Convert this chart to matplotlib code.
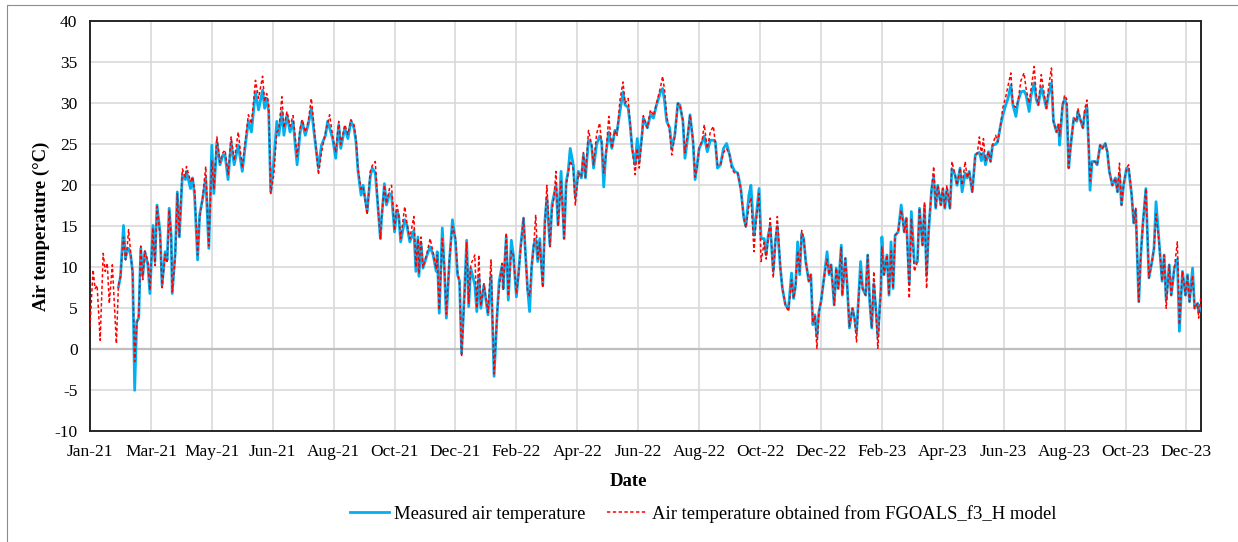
import numpy as np
import pandas as pd
import matplotlib
matplotlib.use("Agg")
import matplotlib.pyplot as plt
from matplotlib.lines import Line2D

nan = np.nan
start_date = "2021-01-01"
end_date = "2023-12-31"

# day offset from 2021-01-01
day = [0, 3, 5, 7, 10, 13, 15, 17, 19, 22, 26, 28, 30, 33, 35, 36, 38, 40, 42, 44,
       46, 48, 50, 52, 54, 57, 59, 62, 64, 66, 69, 71, 74, 76, 78, 80, 81, 84, 86, 88,
       91, 94, 95, 99, 101, 103, 106, 108, 111, 114, 117, 120, 122, 125, 128, 131, 133, 136, 139, 142,
       146, 150, 153, 156, 159, 163, 166, 170, 172, 174, 176, 178, 181, 184, 186, 189, 191, 194, 197, 200,
       204, 207, 209, 212, 215, 218, 221, 225, 228, 232, 234, 236, 239, 242, 245, 247, 251, 254, 257, 260,
       262, 264, 267, 269, 273, 276, 278, 281, 283, 286, 287, 290, 292, 295, 297, 300, 302, 304, 306, 310,
       312, 315, 319, 321, 323, 324, 326, 328, 332, 335, 338, 341, 342, 344, 347, 349, 351, 354, 357, 360,
       362, 364, 366, 369, 371, 373, 375, 379, 381, 383, 385, 388, 392, 395, 398, 401, 403, 406, 407, 410,
       412, 415, 417, 420, 422, 424, 427, 429, 431, 433, 435, 437, 439, 441, 443, 446, 448, 450, 453, 455,
       457, 459, 461, 464, 467, 469, 471, 473, 476, 478, 481, 484, 486, 488, 491, 494, 496, 499, 502, 504,
       506, 508, 511, 514, 517, 519, 522, 525, 527, 530, 532, 534, 537, 539, 541, 544, 545, 549, 552, 555,
       558, 562, 564, 566, 568, 571, 573, 576, 579, 581, 584, 586, 589, 591, 594, 596, 598, 600, 603, 605,
       608, 611, 614, 616, 618, 621, 624, 627, 630, 632, 635, 638, 641, 644, 646, 649, 651, 654, 656, 659,
       661, 664, 666, 668, 670, 673, 675, 677, 680, 682, 685, 688, 691, 693, 695, 697, 699, 701, 703, 705,
       708, 710, 712, 714, 716, 718, 720, 723, 726, 728, 730, 733, 735, 737, 740, 741, 744, 746, 748, 751,
       753, 755, 757, 759, 761, 764, 766, 768, 770, 772, 774, 776, 779, 780, 782, 785, 787, 789, 791, 793,
       796, 799, 802, 804, 807, 809, 812, 815, 817, 820, 822, 824, 826, 829, 831, 833, 835, 838, 840, 842,
       844, 847, 849, 852, 854, 857, 859, 862, 864, 866, 869, 872, 874, 876, 878, 880, 882, 885, 887, 889,
       892, 894, 897, 899, 902, 904, 907, 909, 912, 914, 917, 920, 922, 925, 927, 930, 932, 934, 937, 940,
       942, 944, 947, 949, 952, 954, 955, 958, 960, 962, 964, 966, 969, 972, 973, 976, 978, 980, 982, 984,
       985, 987, 990, 992, 995, 997, 1000, 1002, 1004, 1007, 1010, 1012, 1014, 1016, 1018, 1021, 1023, 1026, 1028, 1030,
       1033, 1035, 1037, 1040, 1043, 1046, 1048, 1050, 1053, 1056, 1058, 1060, 1063, 1065, 1068, 1071, 1073, 1076, 1079, 1081,
       1083, 1086, 1088, 1091, 1092, 1094]

measured = [nan, nan, nan, nan, nan, nan, nan, nan, nan, nan, nan, 7.6, 8.8, 15.1, 11.0, 12.0, 12.3, 11.5, 9.5, -5.0,
            3.4, 3.8, 12.3, 9.0, 11.9, 10.3, 6.8, 15.1, 10.7, 17.6, 14.3, 7.8, 11.9, 10.9, 17.2, 13.9, 6.8, 11.9, 19.2, 13.7,
            21.3, 20.7, 21.7, 19.6, 20.9, 18.8, 10.9, 16.4, 18.4, 20.9, 12.3, 24.9, 19.0, 25.3, 22.5, 23.7, 23.7, 20.7, 25.3, 22.5,
            24.9, 21.7, 24.9, 27.8, 26.5, 31.4, 29.2, 31.6, 29.4, 30.6, 29.0, 19.2, 22.9, 27.8, 26.1, 29.0, 26.1, 28.6, 26.5, 27.8,
            22.5, 26.5, 27.8, 26.1, 27.4, 29.4, 26.1, 22.1, 24.9, 26.1, 27.8, 27.0, 25.7, 23.3, 27.4, 24.5, 27.0, 25.7, 27.8, 27.0,
            25.3, 21.7, 18.8, 20.0, 16.8, 21.0, 22.1, 21.5, 18.4, 13.5, 15.6, 20.2, 17.6, 19.0, 18.8, 14.3, 16.8, 16.4, 13.1, 15.8,
            15.2, 13.1, 14.5, 9.5, 13.7, 8.9, 13.0, 9.9, 11.5, 12.5, 11.5, 9.5, 11.9, 4.4, 14.8, 9.9, 3.8, 10.7, 15.8, 13.1,
            9.1, 8.3, -0.5, 7.4, 13.3, 5.2, 9.9, 7.9, 4.6, 9.0, 5.0, 7.8, 4.2, 9.0, -3.3, 4.2, 8.3, 10.3, 7.4, 13.7,
            6.0, 13.3, 11.5, 6.4, 9.1, 12.3, 16.0, 11.5, 7.4, 4.6, 10.0, 12.7, 13.5, 10.7, 13.5, 7.8, 15.6, 18.5, 12.7, 17.6,
            18.8, 20.0, 15.2, 21.7, 13.5, 20.4, 21.7, 24.5, 22.5, 18.5, 21.7, 20.9, 23.7, 20.9, 25.5, 24.9, 22.1, 25.0, 26.0, 25.3,
            19.8, 23.7, 26.5, 24.5, 26.7, 26.5, 29.0, 31.4, 29.8, 29.5, 27.4, 24.5, 22.5, 25.7, 23.0, 26.5, 28.2, 27.0, 28.6, 28.2,
            29.8, 31.4, 31.8, 30.2, 27.8, 27.0, 24.5, 26.1, 30.0, 29.8, 27.8, 23.3, 26.1, 28.6, 25.3, 20.7, 22.5, 24.5, 25.3, 26.0,
            24.1, 25.5, 25.5, 25.3, 22.1, 22.5, 24.5, 25.1, 23.7, 22.5, 21.7, 21.5, 19.6, 16.0, 15.0, 18.8, 20.0, 13.9, 16.0, 19.6,
            13.5, 13.5, 11.5, 13.9, 15.0, 9.5, 13.1, 15.0, 9.9, 7.4, 5.4, 5.0, 9.3, 6.2, 7.8, 13.1, 9.1, 14.1, 13.5, 10.7,
            8.3, 9.1, 3.0, 4.2, 1.5, 4.6, 5.8, 8.7, 11.9, 9.1, 10.3, 5.4, 9.9, 7.4, 12.7, 6.6, 11.1, 7.4, 2.6, 5.0,
            3.8, 2.0, 6.2, 10.7, 7.4, 6.6, 11.5, 5.8, 2.6, 8.0, 5.0, 1.5, 7.4, 13.7, 9.1, 11.5, 6.6, 13.1, 7.4, 13.9,
            14.3, 17.6, 14.3, 16.0, 8.0, 16.8, 10.5, 10.7, 17.2, 12.7, 17.5, 9.0, 14.3, 19.6, 21.0, 17.2, 20.0, 17.6, 19.6, 17.2,
            19.5, 17.2, 22.0, 21.3, 20.0, 22.1, 19.2, 21.5, 20.9, 21.7, 19.2, 23.7, 23.9, 24.0, 23.0, 24.0, 22.5, 24.1, 22.9, 24.9,
            25.0, 25.3, 27.4, 28.5, 29.8, 30.5, 32.2, 29.8, 28.4, 30.2, 31.4, 31.5, 31.0, 29.0, 31.0, 32.5, 30.5, 29.8, 32.0, 30.5,
            29.4, 31.0, 32.5, 27.8, 26.5, 27.4, 24.9, 29.8, 30.5, 29.8, 22.1, 24.9, 28.2, 27.8, 29.0, 27.8, 27.0, 29.0, 29.5, 23.7,
            19.4, 22.9, 22.9, 22.5, 24.9, 24.5, 25.1, 24.1, 21.7, 20.0, 20.9, 19.2, 21.5, 17.6, 20.0, 22.1, 22.0, 18.8, 15.4, 17.0,
            5.8, 11.5, 15.2, 19.6, 8.7, 10.7, 12.3, 18.0, 13.1, 8.3, 11.5, 6.0, 10.3, 6.6, 9.9, 11.0, 2.2, 9.5, 6.6, 9.1,
            5.8, 9.9, 5.0, 5.6, 4.5, 5.0]

fgoals = [2.8, 9.7, 7.4, 7.8, 1.1, 11.7, 9.5, 10.5, 5.6, 10.3, 0.7, 7.8, 8.9, 13.7, 10.9, 11.5, 14.6, 11.8, 9.1, -1.5,
          3.0, 4.2, 12.6, 8.5, 12.0, 10.8, 7.2, 14.8, 10.2, 17.4, 14.0, 7.5, 11.6, 10.5, 17.0, 13.5, 7.0, 11.4, 19.0, 13.8,
          22.0, 21.0, 22.3, 20.5, 21.0, 19.5, 11.5, 16.0, 18.6, 22.3, 12.6, 23.0, 19.5, 25.9, 22.8, 24.0, 24.3, 21.3, 25.9, 23.0,
          26.5, 22.1, 25.5, 28.6, 27.5, 32.8, 30.6, 33.3, 30.2, 31.2, 30.0, 19.0, 21.3, 26.5, 26.8, 30.8, 27.0, 29.0, 27.2, 28.5,
          23.5, 27.0, 28.0, 26.5, 27.8, 30.6, 26.8, 21.3, 24.0, 26.5, 27.5, 28.6, 26.0, 24.0, 27.8, 25.0, 27.4, 26.2, 28.0, 27.4,
          25.7, 22.0, 19.5, 19.8, 16.4, 21.7, 22.4, 22.9, 18.6, 13.5, 15.8, 20.0, 17.8, 19.6, 20.0, 14.5, 17.6, 16.6, 13.5, 17.4,
          15.5, 13.5, 16.2, 10.0, 13.5, 9.2, 13.7, 10.0, 11.8, 13.5, 11.8, 9.8, 11.5, 4.8, 13.5, 10.2, 4.3, 11.0, 15.0, 13.6,
          9.5, 8.0, -0.9, 7.0, 13.0, 5.6, 10.3, 11.5, 5.0, 11.5, 5.3, 8.0, 4.5, 10.9, -3.0, 4.5, 7.5, 10.5, 7.2, 14.2,
          6.5, 12.0, 11.5, 6.8, 9.0, 12.0, 16.0, 11.5, 7.0, 6.5, 10.1, 12.5, 16.4, 11.0, 13.0, 7.5, 15.0, 20.0, 12.5, 17.0,
          18.5, 21.7, 15.0, 20.5, 13.5, 20.0, 21.5, 23.0, 22.0, 17.6, 21.5, 21.0, 24.0, 21.0, 26.7, 25.0, 22.5, 26.3, 27.6, 25.0,
          21.5, 23.5, 28.4, 24.5, 26.7, 26.0, 30.4, 32.6, 30.0, 30.6, 27.5, 24.5, 21.3, 24.5, 22.1, 26.5, 28.5, 27.0, 29.2, 28.5,
          30.0, 32.0, 33.3, 31.5, 28.5, 26.5, 23.7, 26.0, 30.0, 29.8, 28.0, 24.0, 26.5, 28.6, 25.5, 21.0, 22.2, 24.5, 25.5, 27.4,
          24.5, 26.5, 27.2, 25.0, 22.5, 22.5, 24.0, 24.5, 23.7, 22.0, 21.5, 21.5, 19.5, 16.0, 14.8, 17.5, 18.5, 11.9, 15.5, 19.0,
          10.7, 13.0, 11.0, 13.5, 16.0, 8.7, 13.0, 16.2, 9.9, 7.4, 5.4, 4.6, 8.5, 6.2, 7.8, 12.0, 9.5, 14.5, 13.5, 10.7,
          8.3, 9.1, 3.2, 4.0, 0.1, 4.6, 5.8, 8.7, 11.0, 9.1, 10.3, 5.4, 9.9, 7.4, 12.5, 6.6, 11.1, 7.4, 2.8, 5.0,
          3.8, 0.9, 6.2, 9.5, 7.4, 6.6, 11.5, 5.8, 2.6, 9.5, 5.0, 0.1, 7.4, 12.5, 9.1, 11.5, 6.6, 12.0, 7.4, 13.9,
          14.3, 17.0, 14.3, 16.0, 6.2, 16.0, 9.5, 10.7, 17.2, 12.7, 18.0, 7.4, 14.8, 19.6, 22.3, 17.2, 20.0, 17.6, 19.6, 17.2,
          20.0, 17.2, 22.9, 21.3, 20.0, 22.1, 20.0, 22.9, 20.9, 21.7, 19.2, 23.7, 23.9, 25.9, 23.7, 25.7, 23.0, 24.1, 22.9, 24.9,
          26.1, 25.3, 27.4, 29.4, 30.8, 32.0, 33.7, 29.8, 29.5, 30.2, 32.8, 33.7, 31.8, 30.0, 31.8, 34.5, 31.0, 29.8, 33.5, 31.0,
          29.4, 31.8, 34.3, 27.8, 26.5, 27.4, 26.0, 29.8, 31.0, 30.5, 22.1, 24.9, 28.2, 27.8, 29.4, 27.8, 27.0, 29.4, 30.4, 23.7,
          20.5, 22.9, 22.9, 22.5, 24.9, 24.5, 25.1, 24.1, 21.7, 20.0, 20.9, 19.2, 22.7, 17.6, 20.0, 22.1, 22.5, 18.8, 15.4, 17.2,
          5.8, 11.5, 15.2, 19.6, 8.7, 10.7, 12.3, 16.5, 13.1, 8.3, 11.5, 5.0, 10.3, 6.6, 9.9, 13.1, 3.0, 9.5, 6.6, 9.1,
          5.8, 9.0, 5.0, 5.6, 3.8, 6.2]

x_tick_labels = ["Jan-21", "Mar-21", "May-21", "Jun-21", "Aug-21", "Oct-21", "Dec-21",
                 "Feb-22", "Apr-22", "Jun-22", "Aug-22", "Oct-22", "Dec-22",
                 "Feb-23", "Apr-23", "Jun-23", "Aug-23", "Oct-23", "Dec-23"]
y_ticks = [-10, -5, 0, 5, 10, 15, 20, 25, 30, 35, 40]

series_names = ["Measured air temperature",
                "Air temperature obtained from FGOALS_f3_H model"]

plt.rcParams['font.family'] = ['Liberation Serif', 'DejaVu Serif']

start = pd.Timestamp(start_date)
dates = start + pd.to_timedelta(day, unit="D")
tick_dates = pd.date_range(start_date, periods=len(x_tick_labels), freq="60D")

W, H = 1238, 542
fig = plt.figure(figsize=(W / 100, H / 100), dpi=100)
# outer frame: only top and left edges visible in the reference
fig.lines.append(Line2D([7 / W, 7 / W, 1.0], [0.0, 1 - 5 / H, 1 - 5 / H],
                        transform=fig.transFigure, color="#8C8C8C", linewidth=0.8))

L, R, T, B = 90, 1200.7, 21.3, 431.3
ax = fig.add_axes([L / W, 1 - B / H, (R - L) / W, (B - T) / H])

ax.axhline(0, color="#BFBFBF", linewidth=1.6, zorder=1)
ax.plot(dates, measured, color="#00B0F0", lw=2.0, solid_joinstyle="round",
        label=series_names[0], zorder=3)
ax.plot(dates, fgoals, color="#FF0000", lw=1.1, ls=(0, (2.2, 1.6)),
        label=series_names[1], zorder=4)

ax.set_xlim(start, pd.Timestamp(end_date))
ax.set_ylim(-10, 40)
ax.set_yticks(y_ticks)
ax.set_yticklabels([str(v) for v in y_ticks])
ax.set_xticks(tick_dates)
ax.set_xticklabels(x_tick_labels)
ax.tick_params(axis="both", length=0, labelsize=12.5, colors="#000000")
ax.tick_params(axis="y", pad=9)
ax.tick_params(axis="x", pad=9)
ax.grid(True, color="#D9D9D9", linewidth=1.2, zorder=0)
ax.set_axisbelow(True)
for s in ax.spines.values():
    s.set_color("#262626")
    s.set_linewidth(1.4)

fig.text(628 / W, 1 - 481 / H, "Date", ha="center", va="center",
         fontsize=13.5, fontweight="bold")
fig.text(41 / W, 1 - 226 / H, "Air temperature (°C)", ha="center", va="center",
         rotation=90, fontsize=13.5, fontweight="bold")

fig.legend(loc="center", bbox_to_anchor=(703 / W, 1 - 514 / H), ncol=2, frameon=False,
           fontsize=13.4, handlelength=2.1, columnspacing=1.15, handletextpad=0.3)

fig.savefig("out.png", dpi=100)
